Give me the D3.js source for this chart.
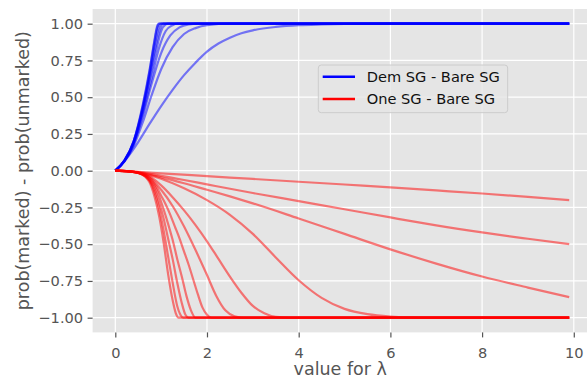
<!DOCTYPE html>
<head>
  <meta charset="utf-8">
  <script src="https://cdn.jsdelivr.net/npm/d3@7"></script>
  <style>
    body { margin:0; background:#fff; font-family:"DejaVu Sans", sans-serif; }
    svg { display:block; }
  </style>
</head>
<body>
<script>
// ticks
var xTicks = [0, 2, 4, 6, 8, 10];
var yTicks = [-1, -0.75, -0.5, -0.25, 0, 0.25, 0.5, 0.75, 1];

// "Dem SG - Bare SG" curves, [lambda, difference]
var demCurves = [
  [[0,0],[0.2,0.07],[0.4,0.2],[0.6,0.45],[0.75,0.69],[0.85,0.88],[0.91,0.98],[0.95,1],[9.9,1]],
  [[0,0],[0.2,0.07],[0.4,0.2],[0.6,0.44],[0.75,0.68],[0.85,0.87],[0.92,0.98],[0.97,1],[9.9,1]],
  [[0,0],[0.2,0.07],[0.4,0.2],[0.6,0.43],[0.75,0.66],[0.85,0.84],[0.93,0.96],[1.0,1],[9.9,1]],
  [[0,0],[0.2,0.068],[0.4,0.195],[0.6,0.42],[0.75,0.64],[0.87,0.83],[0.97,0.96],[1.05,1],[9.9,1]],
  [[0,0],[0.2,0.067],[0.4,0.19],[0.6,0.41],[0.75,0.62],[0.9,0.83],[1.0,0.95],[1.1,0.995],[1.15,1],[9.9,1]],
  [[0,0],[0.2,0.066],[0.4,0.185],[0.6,0.39],[0.8,0.64],[0.95,0.83],[1.1,0.95],[1.25,0.99],[1.35,1],[9.9,1]],
  [[0,0],[0.2,0.065],[0.4,0.18],[0.6,0.37],[0.8,0.6],[1.0,0.8],[1.2,0.92],[1.4,0.975],[1.6,0.995],[1.8,1],[9.9,1]],
  [[0,0],[0.2,0.062],[0.4,0.17],[0.6,0.33],[0.8,0.52],[1.0,0.69],[1.25,0.84],[1.5,0.93],[1.75,0.97],[2.0,0.99],[2.5,1],[9.9,1]],
  [[0,0],[0.25,0.085],[0.5,0.195],[0.75,0.32],[1.0,0.44],[1.25,0.55],[1.5,0.65],[1.75,0.735],[2,0.81],[2.25,0.865],[2.5,0.905],[2.75,0.935],[3,0.955],[3.5,0.978],[4,0.99],[4.5,0.995],[5,0.998],[6,1],[9.9,1]]
];

// "One SG - Bare SG" curves
var oneCurves = [
  [[0,0],[0.3,-0.005],[0.5,-0.015],[0.65,-0.04],[0.75,-0.08],[0.85,-0.17],[0.95,-0.3],[1.05,-0.48],[1.15,-0.7],[1.25,-0.88],[1.32,-0.97],[1.38,-1],[9.9,-1]],
  [[0,0],[0.3,-0.005],[0.5,-0.015],[0.65,-0.038],[0.75,-0.07],[0.85,-0.14],[0.95,-0.25],[1.05,-0.4],[1.15,-0.58],[1.25,-0.76],[1.35,-0.92],[1.42,-0.98],[1.48,-1],[9.9,-1]],
  [[0,0],[0.3,-0.005],[0.5,-0.015],[0.65,-0.036],[0.75,-0.065],[0.85,-0.12],[0.95,-0.21],[1.05,-0.32],[1.15,-0.46],[1.25,-0.6],[1.35,-0.76],[1.45,-0.9],[1.53,-0.98],[1.6,-1],[9.9,-1]],
  [[0,0],[0.3,-0.005],[0.5,-0.015],[0.65,-0.034],[0.75,-0.06],[0.85,-0.1],[0.95,-0.17],[1.05,-0.26],[1.15,-0.36],[1.25,-0.47],[1.35,-0.6],[1.45,-0.72],[1.55,-0.85],[1.65,-0.95],[1.75,-1],[9.9,-1]],
  [[0,0],[0.3,-0.005],[0.5,-0.014],[0.75,-0.05],[0.9,-0.11],[1.0,-0.17],[1.1,-0.23],[1.2,-0.3],[1.3,-0.38],[1.4,-0.46],[1.5,-0.55],[1.6,-0.64],[1.7,-0.74],[1.8,-0.84],[1.9,-0.93],[2.0,-0.98],[2.1,-1],[9.9,-1]],
  [[0,0],[0.3,-0.005],[0.5,-0.014],[0.75,-0.045],[1.0,-0.13],[1.25,-0.24],[1.5,-0.38],[1.75,-0.54],[2.0,-0.71],[2.2,-0.85],[2.4,-0.95],[2.6,-0.99],[2.8,-1],[9.9,-1]],
  [[0,0],[0.3,-0.005],[0.5,-0.013],[0.75,-0.04],[1.0,-0.1],[1.25,-0.18],[1.5,-0.27],[1.75,-0.37],[2.0,-0.48],[2.25,-0.6],[2.5,-0.72],[2.75,-0.83],[3.0,-0.92],[3.25,-0.97],[3.5,-0.995],[3.8,-1],[9.9,-1]],
  [[0,0],[0.3,-0.005],[0.5,-0.013],[0.75,-0.03],[1,-0.055],[1.5,-0.12],[2,-0.2],[2.5,-0.3],[3,-0.43],[3.5,-0.59],[4,-0.745],[4.5,-0.865],[5,-0.94],[5.5,-0.976],[6,-0.992],[6.5,-0.998],[7,-1],[9.9,-1]],
  [[0,0],[0.5,-0.012],[1,-0.045],[1.5,-0.085],[2,-0.13],[2.5,-0.175],[3,-0.222],[4,-0.325],[5,-0.43],[6,-0.535],[7,-0.632],[8,-0.72],[9,-0.795],[9.9,-0.86]],
  [[0,0],[0.5,-0.01],[1,-0.035],[1.5,-0.063],[2,-0.093],[3,-0.152],[4,-0.207],[5,-0.262],[6,-0.318],[7,-0.372],[8,-0.42],[9,-0.463],[9.9,-0.5]],
  [[0,0],[0.5,-0.008],[1,-0.018],[2,-0.037],[3,-0.056],[4,-0.075],[5,-0.094],[6,-0.113],[7,-0.134],[8,-0.155],[9,-0.178],[9.9,-0.2]]
];

var legendLabels = ["Dem SG - Bare SG", "One SG - Bare SG"];
var legendColors = ["#0000ff", "#ff0000"];

var width = 587, height = 378;
var pLeft = 92.6, pRight = 591.9, pTop = 9.0, pBottom = 332.4;

var svg = d3.select("body").append("svg")
  .attr("width", width)
  .attr("height", height);

var x = d3.scaleLinear().domain([-0.495, 10.395]).range([pLeft, pRight]);
var y = d3.scaleLinear().domain([-1.1, 1.1]).range([pBottom, pTop]);

svg.append("rect")
  .attr("x", pLeft).attr("y", pTop)
  .attr("width", pRight - pLeft).attr("height", pBottom - pTop)
  .attr("fill", "#e5e5e5");

// grid
svg.append("g").selectAll("line").data(xTicks).enter().append("line")
  .attr("x1", function(d) { return x(d); }).attr("x2", function(d) { return x(d); })
  .attr("y1", pTop).attr("y2", pBottom)
  .attr("stroke", "#fff").attr("stroke-width", 1.2);
svg.append("g").selectAll("line").data(yTicks).enter().append("line")
  .attr("y1", function(d) { return y(d); }).attr("y2", function(d) { return y(d); })
  .attr("x1", pLeft).attr("x2", pRight)
  .attr("stroke", "#fff").attr("stroke-width", 1.2);

// axes
var xAxis = svg.append("g")
  .attr("transform", "translate(0," + pBottom + ")")
  .call(d3.axisBottom(x).tickValues(xTicks).tickSize(5).tickPadding(10.5).tickFormat(d3.format("d")));
var yAxis = svg.append("g")
  .attr("transform", "translate(" + pLeft + ",0)")
  .call(d3.axisLeft(y).tickValues(yTicks).tickSize(5).tickPadding(4.5).tickFormat(d3.format(".2f")));
[xAxis, yAxis].forEach(function(a) {
  a.attr("font-size", null).attr("font-family", null);
  a.select(".domain").remove();
  a.selectAll(".tick line").attr("stroke", "#555").attr("stroke-width", 1.2);
  a.selectAll(".tick text").attr("fill", "#555")
    .style("font-family", "DejaVu Sans").style("font-size", "14.6px");
});

// curves
svg.append("clipPath").attr("id", "plotclip").append("rect")
  .attr("x", pLeft).attr("y", pTop).attr("width", pRight - pLeft).attr("height", pBottom - pTop);

var line = d3.line()
  .x(function(d) { return x(d[0]); })
  .y(function(d) { return y(d[1]); })
  .curve(d3.curveMonotoneX);

var plot = svg.append("g").attr("clip-path", "url(#plotclip)");
plot.selectAll(".dem").data(demCurves).enter().append("path")
  .attr("class", "dem")
  .attr("d", line)
  .attr("fill", "none")
  .attr("stroke", "#0000ff")
  .attr("stroke-opacity", 0.5)
  .attr("stroke-width", 2.2);
plot.selectAll(".one").data(oneCurves).enter().append("path")
  .attr("class", "one")
  .attr("d", line)
  .attr("fill", "none")
  .attr("stroke", "#ff0000")
  .attr("stroke-opacity", 0.5)
  .attr("stroke-width", 2.2);

// axis labels
svg.append("text")
  .attr("x", (pLeft + pRight) / 2 - 2).attr("y", 375)
  .attr("text-anchor", "middle")
  .attr("fill", "#555")
  .style("font-size", "17.5px")
  .text("value for λ");
svg.append("text")
  .attr("transform", "translate(29," + ((pTop + pBottom) / 2) + ") rotate(-90)")
  .attr("text-anchor", "middle")
  .attr("fill", "#555")
  .style("font-size", "17.5px")
  .text("prob(marked) - prob(unmarked)");

// legend
var legend = svg.append("g");
legend.append("rect")
  .attr("x", 318.3).attr("y", 65)
  .attr("width", 189.4).attr("height", 47.7)
  .attr("rx", 3)
  .attr("fill", "#e5e5e5").attr("fill-opacity", 0.8)
  .attr("stroke", "#cccccc").attr("stroke-width", 1);
legend.selectAll(".item").data(legendLabels).enter().append("g")
  .attr("transform", function(d, i) { return "translate(0," + (76.7 + i * 22.3) + ")"; })
  .each(function(d, i) {
    var g = d3.select(this);
    g.append("line")
      .attr("x1", 322.7).attr("x2", 355)
      .attr("stroke", legendColors[i]).attr("stroke-width", 2.4);
    g.append("text")
      .attr("x", 366.7).attr("y", 5.2)
      .attr("fill", "#111")
      .style("font-size", "14.6px")
      .text(d);
  });
</script>
</body>
